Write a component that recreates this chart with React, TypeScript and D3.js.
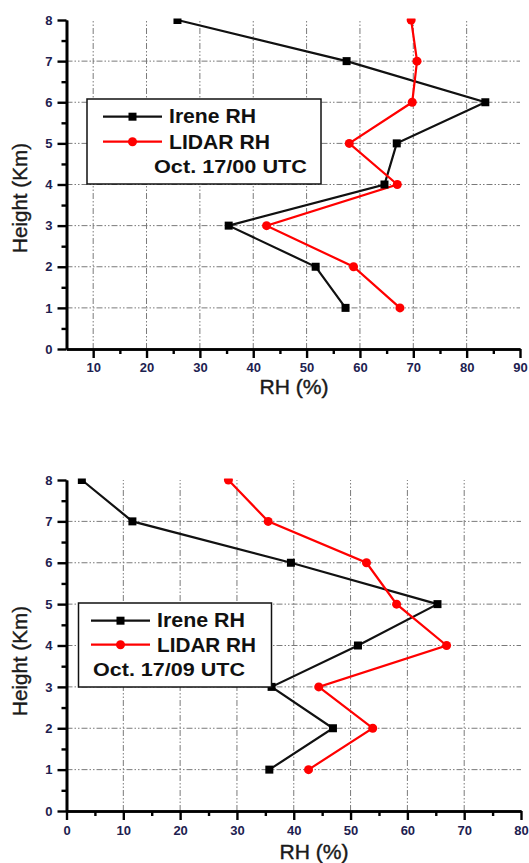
import { useEffect, useRef } from "react";
import * as d3 from "d3";

// heights (km) shared by both soundings
const heights = [1, 2, 3, 4, 5, 6, 7, 8];

// Oct. 17/00 UTC
const ireneRH00 = [57.3, 51.7, 35.4, 64.6, 66.9, 83.5, 57.5, 25.8];
const lidarRH00 = [67.5, 58.8, 42.5, 67.0, 58.0, 69.8, 70.7, 69.6];

// Oct. 17/09 UTC
const ireneRH09 = [35.7, 46.9, 36.1, 51.3, 65.3, 39.5, 11.6, 2.7];
const lidarRH09 = [42.6, 53.9, 44.4, 66.9, 58.1, 52.8, 35.5, 28.5];

const xTicks00 = [10, 20, 30, 40, 50, 60, 70, 80, 90];
const xTicks09 = [0, 10, 20, 30, 40, 50, 60, 70, 80];
const yTicks = [0, 1, 2, 3, 4, 5, 6, 7, 8];

const seriesNames = ["Irene RH", "LIDAR RH"];

const FONT = "'Liberation Sans', Arial, Helvetica, sans-serif";
const TICK_COLOR = "#1d2150";

type Sel = d3.Selection<SVGSVGElement, unknown, null, undefined>;

interface PanelOpts {
  id: string;
  xDomain: [number, number];
  xRange: [number, number];
  yRange: [number, number];
  xTicks: number[];
  gridX: number[];
  irene: number[];
  lidar: number[];
  stamp: string;
  box: { x: number; y: number; w: number; h: number };
  legend: {
    lineX1: number;
    lineX2: number;
    textX: number;
    rows: number[]; // line y for each series
    baselines: number[];
    widths: number[];
    stampX: number;
    stampY: number;
    stampW: number;
  };
  xTitle: { x: number; y: number };
  yTitle: { x: number; y: number };
  labelPad: number;
}

function drawPanel(svg: Sel, p: PanelOpts) {
  const x = d3.scaleLinear().domain(p.xDomain).range(p.xRange);
  const y = d3.scaleLinear().domain([0, 8]).range(p.yRange);

  const g = svg.append("g");

  // dash-dot-dot grid
  const grid = g
    .append("g")
    .attr("stroke", "#7a7a7a")
    .attr("stroke-width", 1)
    .attr("stroke-dasharray", "6,2,1.5,2,1.5,2");
  grid
    .selectAll("line.v")
    .data(p.gridX)
    .join("line")
    .attr("x1", (d) => x(d))
    .attr("x2", (d) => x(d))
    .attr("y1", y(0))
    .attr("y2", y(8));
  grid
    .selectAll("line.h")
    .data([1, 2, 3, 4, 5, 6, 7])
    .join("line")
    .attr("x1", x(p.xDomain[0]))
    .attr("x2", x(p.xDomain[1]))
    .attr("y1", (d) => y(d))
    .attr("y2", (d) => y(d));

  // clip the top so the y=8 markers are cut like the original
  svg
    .append("clipPath")
    .attr("id", `clip-${p.id}`)
    .append("rect")
    .attr("x", 0)
    .attr("y", y(8) - 1.5)
    .attr("width", 529)
    .attr("height", y(0) - y(8) + 20);

  const data = g.append("g").attr("clip-path", `url(#clip-${p.id})`);
  const line = d3
    .line<number>()
    .x((d) => x(d))
    .y((_, i) => y(heights[i]));

  data
    .append("path")
    .datum(p.irene)
    .attr("fill", "none")
    .attr("stroke", "#111")
    .attr("stroke-width", 2.2)
    .attr("d", line);
  data
    .append("path")
    .datum(p.lidar)
    .attr("fill", "none")
    .attr("stroke", "#ff0000")
    .attr("stroke-width", 2.2)
    .attr("d", line);

  data
    .selectAll("rect.sq")
    .data(p.irene)
    .join("rect")
    .attr("x", (d) => x(d) - 4)
    .attr("y", (_, i) => y(heights[i]) - 4)
    .attr("width", 8)
    .attr("height", 8)
    .attr("fill", "#000");
  data
    .selectAll("circle.dot")
    .data(p.lidar)
    .join("circle")
    .attr("cx", (d) => x(d))
    .attr("cy", (_, i) => y(heights[i]))
    .attr("r", 4.5)
    .attr("fill", "#ff0000");

  // axes: major + minor ticks, outward
  const styleAxis = (a: d3.Selection<SVGGElement, unknown, null, undefined>) => {
    a.select(".domain").attr("stroke", "#000").attr("stroke-width", 2.6);
    a.selectAll(".tick line").attr("stroke", "#000").attr("stroke-width", 2.4);
    a.selectAll(".tick text")
      .attr("fill", TICK_COLOR)
      .attr("font-family", FONT)
      .attr("font-weight", "bold")
      .attr("font-size", 13);
  };

  const xMinor = p.xTicks.slice(0, -1).map((t) => t + 5);
  if (p.xDomain[0] < p.xTicks[0]) xMinor.unshift(p.xTicks[0] - 5);
  const xMinorFiltered = xMinor.filter((t) => t > p.xDomain[0]);

  const xAxisG = g.append("g").attr("transform", `translate(0,${y(0)})`);
  xAxisG.call(
    d3
      .axisBottom(x)
      .tickValues(p.xTicks)
      .tickSize(9)
      .tickSizeOuter(0)
      .tickPadding(p.labelPad)
      .tickFormat(d3.format("d"))
  );
  styleAxis(xAxisG);
  const xMinorG = g.append("g").attr("transform", `translate(0,${y(0)})`);
  xMinorG.call(
    d3.axisBottom(x).tickValues(xMinorFiltered).tickSize(5).tickSizeOuter(0).tickFormat(() => "")
  );
  styleAxis(xMinorG);

  const yAxisG = g.append("g").attr("transform", `translate(${x(p.xDomain[0])},0)`);
  yAxisG.call(
    d3
      .axisLeft(y)
      .tickValues(yTicks)
      .tickSize(9)
      .tickSizeOuter(0)
      .tickPadding(5)
      .tickFormat(d3.format("d"))
  );
  styleAxis(yAxisG);
  const yMinorG = g.append("g").attr("transform", `translate(${x(p.xDomain[0])},0)`);
  yMinorG.call(
    d3
      .axisLeft(y)
      .tickValues(yTicks.slice(0, -1).map((t) => t + 0.5))
      .tickSize(5)
      .tickSizeOuter(0)
      .tickFormat(() => "")
  );
  styleAxis(yMinorG);

  // axis titles
  g.append("text")
    .attr("x", p.xTitle.x)
    .attr("y", p.xTitle.y)
    .attr("text-anchor", "middle")
    .attr("font-family", FONT)
    .attr("font-size", 21)
    .attr("fill", "#1a1a1a")
    .attr("stroke", "#1a1a1a")
    .attr("stroke-width", 0.4)
    .attr("textLength", 69)
    .attr("lengthAdjust", "spacingAndGlyphs")
    .text("RH (%)");
  g.append("text")
    .attr("transform", `translate(${p.yTitle.x},${p.yTitle.y}) rotate(-90)`)
    .attr("text-anchor", "middle")
    .attr("font-family", FONT)
    .attr("font-size", 21)
    .attr("fill", "#1a1a1a")
    .attr("stroke", "#1a1a1a")
    .attr("stroke-width", 0.4)
    .attr("textLength", 110)
    .attr("lengthAdjust", "spacingAndGlyphs")
    .text("Height (Km)");

  // legend
  const lg = g.append("g");
  lg.append("rect")
    .attr("x", p.box.x)
    .attr("y", p.box.y)
    .attr("width", p.box.w)
    .attr("height", p.box.h)
    .attr("fill", "#fff")
    .attr("stroke", "#111")
    .attr("stroke-width", 1.5);

  const L = p.legend;
  const mid = (L.lineX1 + L.lineX2) / 2;
  seriesNames.forEach((name, i) => {
    const color = i === 0 ? "#111" : "#ff0000";
    lg.append("line")
      .attr("x1", L.lineX1)
      .attr("x2", L.lineX2)
      .attr("y1", L.rows[i])
      .attr("y2", L.rows[i])
      .attr("stroke", color)
      .attr("stroke-width", 2.2);
    if (i === 0) {
      lg.append("rect")
        .attr("x", mid - 4)
        .attr("y", L.rows[i] - 4)
        .attr("width", 8)
        .attr("height", 8)
        .attr("fill", "#000");
    } else {
      lg.append("circle").attr("cx", mid).attr("cy", L.rows[i]).attr("r", 4.5).attr("fill", "#ff0000");
    }
    lg.append("text")
      .attr("x", L.textX)
      .attr("y", L.baselines[i])
      .attr("font-family", FONT)
      .attr("font-weight", "bold")
      .attr("font-size", 19.5)
      .attr("fill", "#111")
      .attr("textLength", L.widths[i])
      .attr("lengthAdjust", "spacingAndGlyphs")
      .text(name);
  });
  lg.append("text")
    .attr("x", L.stampX)
    .attr("y", L.stampY)
    .attr("font-family", FONT)
    .attr("font-weight", "bold")
    .attr("font-size", 19)
    .attr("fill", "#111")
    .attr("textLength", L.stampW)
    .attr("lengthAdjust", "spacingAndGlyphs")
    .text(p.stamp);
}

export default function App() {
  const ref = useRef<SVGSVGElement>(null);

  useEffect(() => {
    const svg = d3.select(ref.current as SVGSVGElement) as Sel;
    svg.selectAll("*").remove();

    drawPanel(svg, {
      id: "a",
      xDomain: [5, 90],
      xRange: [66.5, 520],
      yRange: [349, 20],
      xTicks: xTicks00,
      gridX: xTicks00.slice(0, -1),
      irene: ireneRH00,
      lidar: lidarRH00,
      stamp: "Oct. 17/00 UTC",
      box: { x: 87, y: 99, w: 234, h: 85 },
      legend: {
        lineX1: 103,
        lineX2: 162,
        textX: 169,
        rows: [116.7, 141.7],
        baselines: [123, 149],
        widths: [87, 101],
        stampX: 154,
        stampY: 173,
        stampW: 153,
      },
      xTitle: { x: 294, y: 394 },
      yTitle: { x: 27, y: 198 },
      labelPad: 5,
    });

    drawPanel(svg, {
      id: "b",
      xDomain: [0, 80],
      xRange: [66.5, 521],
      yRange: [811, 480],
      xTicks: xTicks09,
      gridX: xTicks09.slice(1, -1),
      irene: ireneRH09,
      lidar: lidarRH09,
      stamp: "Oct. 17/09 UTC",
      box: { x: 78.5, y: 603, w: 193, h: 84 },
      legend: {
        lineX1: 91,
        lineX2: 150,
        textX: 157,
        rows: [620.7, 644.7],
        baselines: [627, 652],
        widths: [88, 99],
        stampX: 93,
        stampY: 676,
        stampW: 152,
      },
      xTitle: { x: 314, y: 859 },
      yTitle: { x: 27, y: 661 },
      labelPad: 6,
    });
  }, []);

  return (
    <svg
      ref={ref}
      width={529}
      height={863}
      style={{ position: "absolute", left: 0, top: 0, background: "#fff" }}
    />
  );
}
